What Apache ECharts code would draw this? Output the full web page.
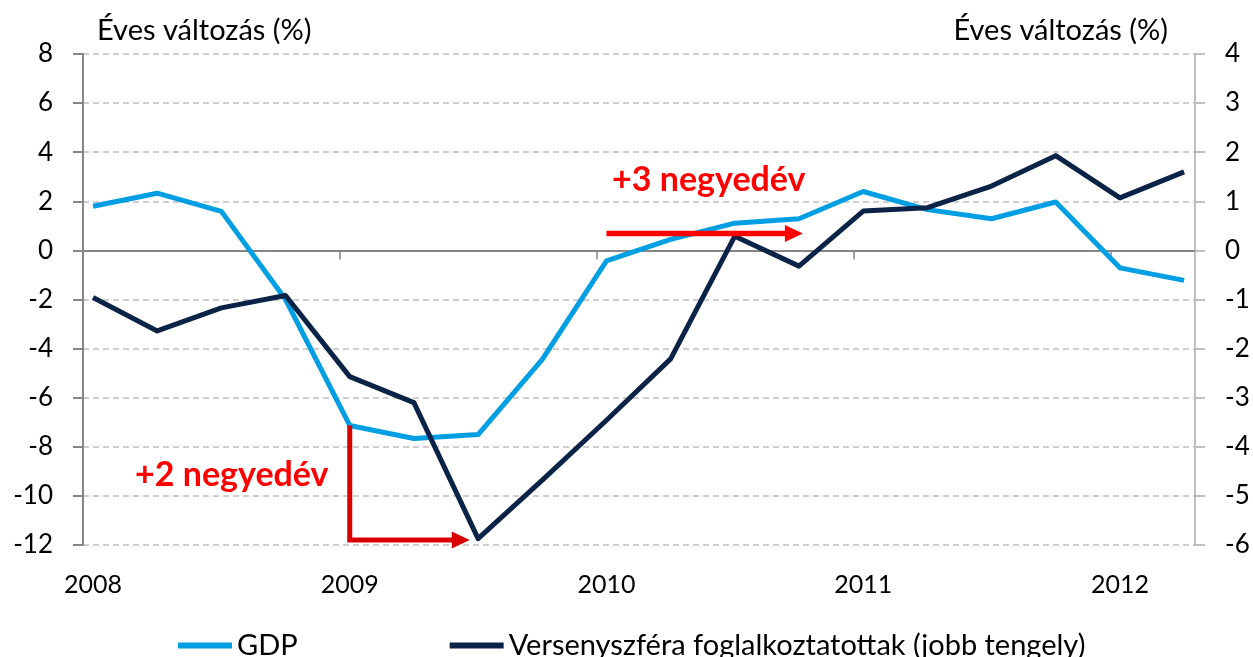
<!DOCTYPE html>
<html><head><meta charset="utf-8">
<script src="https://cdn.jsdelivr.net/npm/echarts@6/dist/echarts.min.js"></script>
<style>html,body{margin:0;padding:0;background:#fff}#c{width:1253px;height:657px}</style>
</head><body><div id="c"></div>
<script>
// quarter index 0 = 2008 Q1 ... 17 = 2012 Q2
const yearLabels = ['2008', '2009', '2010', '2011', '2012'];
const yearLabelPos = [0, 4, 8, 12, 16];
const yearTickPos = [3.85, 7.85, 11.85, 15.85];
const gdp = [1.8, 2.33, 1.59, -2.0, -7.13, -7.66, -7.5, -4.44, -0.43, 0.45, 1.11, 1.29, 2.4, 1.66, 1.29, 1.97, -0.71, -1.22];
const emp = [-0.96, -1.64, -1.17, -0.92, -2.57, -3.1, -5.87, -4.68, -3.46, -2.21, 0.29, -0.32, 0.8, 0.87, 1.31, 1.93, 1.07, 1.6];
const leftTicks = [-12, 8, 2];
const rightTicks = [-6, 4, 1];
// annotation anchors in data coords (quarter index, left-axis value)
const lagArrow2 = {x0: 4, yTop: -7.13, yBot: -11.8, x1: 5.87};
const lagArrow3 = {x0: 8, x1: 11.06, y: 0.69};

const FONT = 'Lato';
const chart = echarts.init(document.getElementById('c'));
const xMin = -0.156, xMax = 17.17;
const option = {
  animation: false,
  textStyle: {fontFamily: FONT},
  grid: {left: 83, right: 58, top: 54, bottom: 112},
  legend: {
    bottom: -8, left: 173, itemGap: 152, itemWidth: 54, itemHeight: 6,
    icon: 'rect',
    textStyle: {fontSize: 29, color: '#000', fontFamily: FONT},
    data: ['GDP', 'Versenyszféra foglalkoztatottak (jobb tengely)']
  },
  xAxis: [{
    type: 'value', min: xMin, max: xMax,
    axisLine: {show: true, onZero: true, onZeroAxisIndex: 0, lineStyle: {color: '#868686', width: 2}},
    axisTick: {show: true, customValues: yearTickPos, length: 9, lineStyle: {color: '#868686', width: 1.5}},
    axisLabel: {show: false},
    splitLine: {show: false}
  }, {
    type: 'value', min: xMin, max: xMax, position: 'bottom',
    axisLine: {show: false, onZero: false}, axisTick: {show: false}, splitLine: {show: false},
    axisLabel: {
      show: true, customValues: yearLabelPos, margin: 27, fontSize: 25, color: '#000', fontFamily: FONT,
      formatter: v => yearLabels[yearLabelPos.indexOf(Math.round(v))] || ''
    }
  }],
  yAxis: [{
    type: 'value', min: leftTicks[0], max: leftTicks[1], interval: leftTicks[2],
    name: 'Éves változás (%)', nameLocation: 'end', nameGap: 9,
    nameTextStyle: {fontSize: 29, color: '#000', align: 'left', padding: [0, 0, 0, 14], fontFamily: FONT},
    axisLine: {show: true, onZero: false, lineStyle: {color: '#868686', width: 2}},
    axisTick: {show: true, length: 10, lineStyle: {color: '#868686', width: 2}},
    axisLabel: {fontSize: 26, color: '#000', margin: 30, fontFamily: FONT},
    splitLine: {show: true, lineStyle: {color: '#BFBFBF', type: [6, 4], width: 1.5}}
  }, {
    type: 'value', min: rightTicks[0], max: rightTicks[1], interval: rightTicks[2],
    name: 'Éves változás (%)', nameLocation: 'end', nameGap: 9,
    nameTextStyle: {fontSize: 29, color: '#000', align: 'right', padding: [0, 27, 0, 0], fontFamily: FONT},
    axisLine: {show: true, onZero: false, lineStyle: {color: '#BFBFBF', width: 2}},
    axisTick: {show: true, length: 10, lineStyle: {color: '#BFBFBF', width: 2}},
    axisLabel: {fontSize: 26, color: '#000', margin: 30, fontFamily: FONT},
    splitLine: {show: false}
  }],
  series: [{
    name: 'GDP', type: 'line', xAxisIndex: 0, yAxisIndex: 0,
    data: gdp.map((v, i) => [i, v]),
    showSymbol: false, symbol: 'none',
    lineStyle: {color: '#009FE3', width: 5, join: 'round'},
    itemStyle: {color: '#009FE3'}, z: 3
  }, {
    name: 'Versenyszféra foglalkoztatottak (jobb tengely)', type: 'line', xAxisIndex: 0, yAxisIndex: 1,
    data: emp.map((v, i) => [i, v]),
    showSymbol: false, symbol: 'none',
    lineStyle: {color: '#0B2347', width: 5, join: 'round'},
    itemStyle: {color: '#0B2347'}, z: 4
  }]
};
chart.setOption(option);

function px(x, y) { return chart.convertToPixel({xAxisIndex: 0, yAxisIndex: 0}, [x, y]); }
const a = px(lagArrow2.x0, lagArrow2.yTop), b = px(lagArrow2.x0, lagArrow2.yBot), c = px(lagArrow2.x1, lagArrow2.yBot);
const d = px(lagArrow3.x0, lagArrow3.y), e = px(lagArrow3.x1, lagArrow3.y);
const red2 = '#D90000', red3 = '#FF0000';
chart.setOption({
  graphic: [
    {type: 'polyline', z: 10, shape: {points: [a, b, [c[0] - 16, c[1]]]}, style: {stroke: red2, lineWidth: 5, fill: null, lineJoin: 'miter'}},
    {type: 'polygon', z: 10, shape: {points: [[c[0] - 18, c[1] - 8.5], [c[0], c[1]], [c[0] - 18, c[1] + 8.5]]}, style: {fill: red2}},
    {type: 'line', z: 10, shape: {x1: d[0], y1: d[1], x2: e[0] - 16, y2: e[1]}, style: {stroke: red3, lineWidth: 5.5}},
    {type: 'polygon', z: 10, shape: {points: [[e[0] - 18, e[1] - 8.5], [e[0], e[1]], [e[0] - 18, e[1] + 8.5]]}, style: {fill: red3}},
    {type: 'text', z: 11, left: 612, top: 163, style: {text: '+3 negyedév', fontSize: 34, fontWeight: 'bold', fill: red3, fontFamily: FONT}},
    {type: 'text', z: 11, left: 135, top: 458, style: {text: '+2 negyedév', fontSize: 34, fontWeight: 'bold', fill: red3, fontFamily: FONT}}
  ]
});
</script></body></html>
